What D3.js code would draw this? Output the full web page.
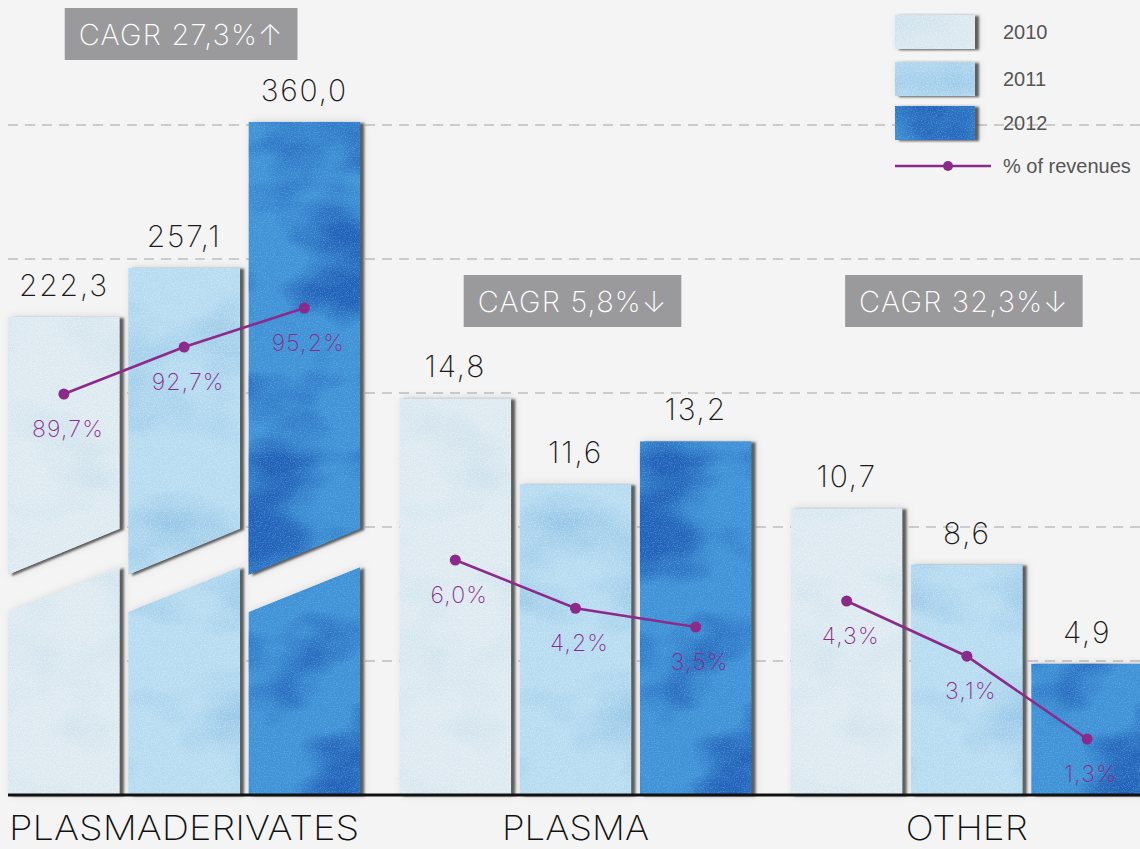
<!DOCTYPE html>
<html>
<head>
<meta charset="utf-8">
<script src="https://cdn.jsdelivr.net/npm/d3@7"></script>
<style>
  html, body { margin: 0; padding: 0; background: #f4f4f4; }
  svg { display: block; }
</style>
</head>
<body>
<svg id="chart" width="1140" height="849"></svg>
<script>
// ---- data ----
const categories = ["PLASMADERIVATES", "PLASMA", "OTHER"];
const years = ["2010", "2011", "2012"];
const plasmaderivatesRevenue = [222.3, 257.1, 360.0];
const plasmaRevenue = [14.8, 11.6, 13.2];
const otherRevenue = [10.7, 8.6, 4.9];
const plasmaderivatesShare = [89.7, 92.7, 95.2];
const plasmaShare = [6.0, 4.2, 3.5];
const otherShare = [4.3, 3.1, 1.3];
const cagrLabels = ["CAGR 27,3%\u2191", "CAGR 5,8%\u2193", "CAGR 32,3%\u2193"];
const gridTicks = [5, 10, 15, 20, 25];
const lineLegendLabel = "% of revenues";

const revenueByGroup = [plasmaderivatesRevenue, plasmaRevenue, otherRevenue];
const shareByGroup = [plasmaderivatesShare, plasmaShare, otherShare];

// ---- layout ----
const W = 1140, H = 849, baseY = 795;
const svg = d3.select("#chart");
const fmt = d3.formatLocale({ decimal: ",", thousands: ".", grouping: [3], currency: ["", ""] }).format(".1f");
const purple = "#8c2a8c";
const numFont = "Inter, 'DejaVu Sans', sans-serif";

svg.append("rect").attr("width", W).attr("height", H).attr("fill", "#f4f4f4");

// group and year bands
const x0 = d3.scaleBand().domain(categories).range([8, 1143]).paddingInner(0.1);
const x1 = d3.scaleBand().domain(years).range([0, x0.bandwidth()]).paddingInner(0.07);

// main value axis (PLASMA, OTHER) and the broken axis for PLASMADERIVATES
const y = d3.scaleLinear().domain([0, 25]).range([baseY, baseY - 25 * 26.8]);
const yBig = d3.scaleLinear().domain([0, 360]).range([632, 122]);

// % of revenues: one scale per group
const pctRanges = [[394, 308], [627, 560], [739, 601]];
const yPct = shareByGroup.map((s, i) => d3.scaleLinear().domain(d3.extent(s)).range(pctRanges[i]));

// ---- paper / watercolour filters ----
const defs = svg.append("defs");
const texture = [
  { id: "tex2010", base: "#dce9f0", blot: [0.78, 0.87, 0.92], blotA: [2.0, -0.95], grain: [1, 1, 1], grainA: [1.1, -0.47], seed: 4 },
  { id: "tex2011", base: "#b6dbf0", blot: [0.58, 0.77, 0.90], blotA: [2.2, -1.0], grain: [0.9, 0.96, 1], grainA: [1.1, -0.47], seed: 9 },
  { id: "tex2012", base: "#3f92d6", blot: [0.13, 0.38, 0.72], blotA: [2.8, -1.15], grain: [0.55, 0.78, 0.95], grainA: [1.0, -0.45], seed: 17 }
];
texture.forEach(t => {
  const f = defs.append("filter").attr("id", t.id)
    .attr("x", "-10%").attr("y", "-5%").attr("width", "125%").attr("height", "112%")
    .attr("color-interpolation-filters", "sRGB");
  f.append("feTurbulence").attr("type", "fractalNoise").attr("baseFrequency", "0.010 0.016")
    .attr("numOctaves", 3).attr("seed", t.seed).attr("result", "n1");
  f.append("feColorMatrix").attr("in", "n1").attr("type", "matrix")
    .attr("values", `0 0 0 0 ${t.blot[0]}  0 0 0 0 ${t.blot[1]}  0 0 0 0 ${t.blot[2]}  ${t.blotA[0]} 0 0 0 ${t.blotA[1]}`)
    .attr("result", "blot");
  f.append("feTurbulence").attr("type", "fractalNoise").attr("baseFrequency", "0.8")
    .attr("numOctaves", 2).attr("seed", t.seed + 3).attr("result", "n2");
  f.append("feColorMatrix").attr("in", "n2").attr("type", "matrix")
    .attr("values", `0 0 0 0 ${t.grain[0]}  0 0 0 0 ${t.grain[1]}  0 0 0 0 ${t.grain[2]}  ${t.grainA[0]} 0 0 0 ${t.grainA[1]}`)
    .attr("result", "grain");
  const m = f.append("feMerge").attr("result", "tex");
  m.append("feMergeNode").attr("in", "SourceGraphic");
  m.append("feMergeNode").attr("in", "blot");
  m.append("feMergeNode").attr("in", "grain");
  f.append("feComposite").attr("in", "tex").attr("in2", "SourceAlpha").attr("operator", "in").attr("result", "texIn");
  // crisp dark edge on the right
  f.append("feGaussianBlur").attr("in", "SourceAlpha").attr("stdDeviation", 1).attr("result", "b1");
  f.append("feOffset").attr("in", "b1").attr("dx", 4).attr("dy", 1).attr("result", "o1");
  f.append("feFlood").attr("flood-color", "#333").attr("flood-opacity", 0.75).attr("result", "c1");
  f.append("feComposite").attr("in", "c1").attr("in2", "o1").attr("operator", "in").attr("result", "s1");
  // soft halo
  f.append("feGaussianBlur").attr("in", "SourceAlpha").attr("stdDeviation", 4).attr("result", "b2");
  f.append("feOffset").attr("in", "b2").attr("dx", 3).attr("dy", 0).attr("result", "o2");
  f.append("feFlood").attr("flood-color", "#556").attr("flood-opacity", 0.2).attr("result", "c2");
  f.append("feComposite").attr("in", "c2").attr("in2", "o2").attr("operator", "in").attr("result", "s2");
  const m2 = f.append("feMerge");
  m2.append("feMergeNode").attr("in", "s2");
  m2.append("feMergeNode").attr("in", "s1");
  m2.append("feMergeNode").attr("in", "texIn");
});
const baseColor = d => texture[years.indexOf(d)].base;
const texUrl = d => `url(#${texture[years.indexOf(d)].id})`;

// ---- gridlines ----
svg.append("g").selectAll("line").data(gridTicks).join("line")
  .attr("x1", 8).attr("x2", W)
  .attr("y1", d => y(d)).attr("y2", d => y(d))
  .attr("stroke", "#bdbdbd").attr("stroke-width", 1.6).attr("stroke-dasharray", "10 7");

// ---- bars ----
const barsG = svg.append("g");
const valueLabel = sel => sel.attr("text-anchor", "middle").attr("font-family", numFont)
  .attr("font-weight", 250).attr("font-size", 30).attr("letter-spacing", 1.8).attr("fill", "#1a1a1a");
categories.forEach((cat, gi) => {
  const vals = revenueByGroup[gi];
  const g = barsG.append("g").attr("transform", `translate(${x0(cat)},0)`);
  const bw = x1.bandwidth();
  if (gi === 0) {
    // broken bars: lower stub and upper piece cut on a slant
    const cutUpL = 575, cutUpR = 529, cutLoL = 612, cutLoR = 567;
    years.forEach((yr, i) => {
      const bx = x1(yr);
      g.append("path")
        .attr("d", `M${bx},${baseY} L${bx},${cutLoL} L${bx + bw},${cutLoR} L${bx + bw},${baseY} Z`)
        .attr("fill", baseColor(yr)).attr("filter", texUrl(yr));
      const top = yBig(vals[i]);
      g.append("path")
        .attr("d", `M${bx},${top} L${bx + bw},${top} L${bx + bw},${cutUpR} L${bx},${cutUpL} Z`)
        .attr("fill", baseColor(yr)).attr("filter", texUrl(yr));
      g.append("text").attr("x", bx + bw / 2).attr("y", top - 21).call(valueLabel).text(fmt(vals[i]));
    });
  } else {
    g.selectAll("rect").data(years).join("rect")
      .attr("x", d => x1(d)).attr("width", bw)
      .attr("y", (d, i) => y(vals[i])).attr("height", (d, i) => baseY - y(vals[i]))
      .attr("fill", d => baseColor(d)).attr("filter", d => texUrl(d));
    g.selectAll("text").data(years).join("text")
      .attr("x", d => x1(d) + bw / 2).attr("y", (d, i) => y(vals[i]) - 21)
      .call(valueLabel).text((d, i) => fmt(vals[i]));
  }
});

// ---- baseline ----
svg.append("line").attr("x1", 8).attr("x2", W).attr("y1", baseY).attr("y2", baseY)
  .attr("stroke", "#111").attr("stroke-width", 3);

// ---- % of revenues lines ----
const lineG = svg.append("g");
categories.forEach((cat, gi) => {
  const s = shareByGroup[gi];
  const pts = years.map((yr, i) => [x0(cat) + x1(yr) + x1.bandwidth() / 2, yPct[gi](s[i])]);
  lineG.append("path").attr("d", d3.line()(pts)).attr("fill", "none")
    .attr("stroke", purple).attr("stroke-width", 2.6);
  lineG.selectAll(null).data(pts).join("circle")
    .attr("cx", p => p[0]).attr("cy", p => p[1]).attr("r", 5.5).attr("fill", purple);
  lineG.selectAll(null).data(pts).join("text")
    .attr("x", p => p[0] + 4).attr("y", p => p[1] + 43)
    .attr("text-anchor", "middle").attr("font-family", numFont).attr("font-weight", 250)
    .attr("font-size", 23).attr("letter-spacing", 1.2).attr("fill", purple)
    .text((p, i) => fmt(s[i]) + "%");
});

// ---- CAGR badges ----
const cagrY = [8, 275, 275];
categories.forEach((cat, gi) => {
  const cx = x0(cat) + x0.bandwidth() / 2 - 3;
  const g = svg.append("g");
  const t = g.append("text").attr("x", cx).attr("y", cagrY[gi] + 37)
    .attr("text-anchor", "middle").attr("font-family", numFont).attr("font-weight", 200)
    .attr("font-size", 29).attr("letter-spacing", 1.2).attr("fill", "#fff").text(cagrLabels[gi]);
  const w = t.node().getComputedTextLength() + 28;
  g.insert("rect", "text").attr("x", cx - w / 2).attr("y", cagrY[gi])
    .attr("width", w).attr("height", 52).attr("fill", "#9a9a9c");
});

// ---- category labels ----
const catWidths = [350, 147, 122];
svg.append("g").selectAll("text").data(categories).join("text")
  .attr("x", d => x0(d) + x0.bandwidth() / 2).attr("y", 840)
  .attr("text-anchor", "middle").attr("font-family", "Inter, 'DejaVu Sans', sans-serif")
  .attr("font-weight", 200).attr("font-size", 34).attr("fill", "#111")
  .attr("textLength", (d, i) => catWidths[i]).attr("lengthAdjust", "spacingAndGlyphs")
  .text(d => d);

// ---- legend ----
const legend = svg.append("g").attr("transform", "translate(895,0)");
const swatchY = [15, 62, 106];
legend.selectAll("rect").data(years).join("rect")
  .attr("x", 0).attr("y", (d, i) => swatchY[i]).attr("width", 80).attr("height", 34)
  .attr("fill", d => baseColor(d)).attr("filter", d => texUrl(d));
legend.selectAll("text.yr").data(years).join("text").attr("class", "yr")
  .attr("x", 108).attr("y", (d, i) => swatchY[i] + 24)
  .attr("font-family", "'Liberation Sans', Arial, sans-serif").attr("font-size", 20)
  .attr("fill", "#555").text(d => d);
legend.append("line").attr("x1", 0).attr("x2", 96).attr("y1", 166).attr("y2", 166)
  .attr("stroke", purple).attr("stroke-width", 2.4);
legend.append("circle").attr("cx", 53).attr("cy", 166).attr("r", 5).attr("fill", purple);
legend.append("text").attr("x", 108).attr("y", 173)
  .attr("font-family", "'Liberation Sans', Arial, sans-serif").attr("font-size", 20)
  .attr("fill", "#555").text(lineLegendLabel);
</script>
</body>
</html>
